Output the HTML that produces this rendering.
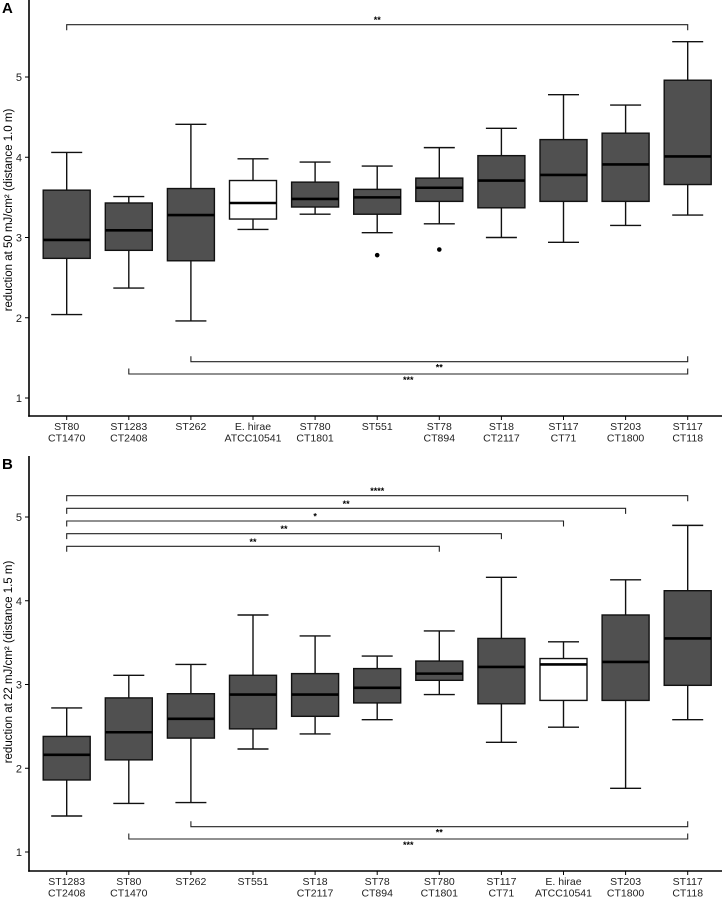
<!DOCTYPE html>
<html><head><meta charset="utf-8"><style>
body{margin:0;background:#fff;}
svg{display:block;font-family:"Liberation Sans",Arial,sans-serif;}
</style></head><body>
<svg id="fig" width="727" height="897" viewBox="0 0 727 897" xmlns="http://www.w3.org/2000/svg"></svg>
<script>
// Panel A data
const catsA = [["ST80","CT1470"],["ST1283","CT2408"],["ST262"],["E. hirae","ATCC10541"],["ST780","CT1801"],["ST551"],["ST78","CT894"],["ST18","CT2117"],["ST117","CT71"],["ST203","CT1800"],["ST117","CT118"]];
const lowA  = [2.04,2.37,1.96,3.10,3.29,3.06,3.17,3.00,2.94,3.15,3.28];
const q1A   = [2.74,2.84,2.71,3.23,3.38,3.29,3.45,3.37,3.45,3.45,3.66];
const medA  = [2.97,3.09,3.28,3.43,3.48,3.50,3.62,3.71,3.78,3.91,4.01];
const q3A   = [3.59,3.43,3.61,3.71,3.69,3.60,3.74,4.02,4.22,4.30,4.96];
const highA = [4.06,3.51,4.41,3.98,3.94,3.89,4.12,4.36,4.78,4.65,5.44];
const whiteA = [3];
const outA = [[5,2.78],[6,2.85]];
const ticksA = [1,2,3,4,5];
// brackets: [from, to, label]
const topBrA = [[0,10,"**"]];
const botBrA = [[2,10,"**"],[1,10,"***"]];

// Panel B data
const catsB = [["ST1283","CT2408"],["ST80","CT1470"],["ST262"],["ST551"],["ST18","CT2117"],["ST78","CT894"],["ST780","CT1801"],["ST117","CT71"],["E. hirae","ATCC10541"],["ST203","CT1800"],["ST117","CT118"]];
const lowB  = [1.43,1.58,1.59,2.23,2.41,2.58,2.88,2.31,2.49,1.76,2.58];
const q1B   = [1.86,2.10,2.36,2.47,2.62,2.78,3.05,2.77,2.81,2.81,2.99];
const medB  = [2.16,2.43,2.59,2.88,2.88,2.96,3.13,3.21,3.24,3.27,3.55];
const q3B   = [2.38,2.84,2.89,3.11,3.13,3.19,3.28,3.55,3.31,3.83,4.12];
const highB = [2.72,3.11,3.24,3.83,3.58,3.34,3.64,4.28,3.51,4.25,4.90];
const whiteB = [8];
const outB = [];
const ticksB = [1,2,3,4,5];
const topBrB = [[0,10,"****"],[0,9,"**"],[0,8,"*"],[0,7,"**"],[0,6,"**"]];
const botBrB = [[2,10,"**"],[1,10,"***"]];

const NS="http://www.w3.org/2000/svg";
const svg=document.getElementById('fig');
function el(tag,attrs,parent){const e=document.createElementNS(NS,tag);for(const k in attrs)e.setAttribute(k,attrs[k]);(parent||svg).appendChild(e);return e;}
const xPos=i=>66.7+i*62.1;

function panel(o){
  const g=el('g',{});
  
  
  const y=v=>o.y1-(v-1)*o.unit;
  // axes
  const ya=el('line',{x1:29,y1:o.top,x2:29,y2:o.axisY+0.75,stroke:'#000','stroke-width':1.6},g);
  
  
  const xa=el('line',{x1:28.2,y1:o.axisY,x2:722,y2:o.axisY,stroke:'#000','stroke-width':1.6},g);
  
  
  o.ticks.forEach(t=>{
    el('line',{x1:25,y1:y(t),x2:29,y2:y(t),stroke:'#000','stroke-width':1},g);
    const tx=el('text',{x:22,y:y(t)+4,'font-size':11,'text-anchor':'end',fill:'#222'},g);
    tx.textContent=t;
    
    
  });
  const yt=el('text',{x:0,y:0,'font-size':11.5,'text-anchor':'middle',fill:'#000',transform:`translate(12,${o.titleY}) rotate(-90)`},g);
  yt.textContent=o.title;
  
  
  const pl=el('text',{x:2,y:o.top+13,'font-size':15,'font-weight':'bold',fill:'#000'},g);
  pl.textContent=o.id.toUpperCase();
  
  
  o.cats.forEach((c,i)=>{
    const x=xPos(i);
    el('line',{x1:x,y1:o.axisY,x2:x,y2:o.axisY+4,stroke:'#000','stroke-width':1},g);
    c.forEach((s,j)=>{
      const t=el('text',{x:x,y:o.axisY+14+j*11.5,'font-size':10.5,'text-anchor':'middle',fill:'#222'},g);
      t.textContent=s;
      
      
    });
    const bg=el('g',{},g);
    
    
    const fill=o.white.includes(i)?'#fff':'#505050';
    el('line',{x1:x,y1:y(o.high[i]),x2:x,y2:y(o.q3[i]),stroke:'#111','stroke-width':1.4},bg);
    el('line',{x1:x,y1:y(o.q1[i]),x2:x,y2:y(o.low[i]),stroke:'#111','stroke-width':1.4},bg);
    el('line',{x1:x-15.5,y1:y(o.high[i]),x2:x+15.5,y2:y(o.high[i]),stroke:'#111','stroke-width':1.4},bg);
    el('line',{x1:x-15.5,y1:y(o.low[i]),x2:x+15.5,y2:y(o.low[i]),stroke:'#111','stroke-width':1.4},bg);
    el('rect',{x:x-23.5,y:y(o.q3[i]),width:47,height:y(o.q1[i])-y(o.q3[i]),fill:fill,stroke:'#111','stroke-width':1.4},bg);
    el('line',{x1:x-23.5,y1:y(o.med[i]),x2:x+23.5,y2:y(o.med[i]),stroke:'#000','stroke-width':2.6},bg);
  });
  o.out.forEach(p=>{
    const c=el('circle',{cx:xPos(p[0]),cy:y(p[1]),r:2.3,fill:'#000'},g);
    
    
  });
  o.topBr.forEach((b,k)=>{
    const ly=o.topBrY+k*o.brStep;
    const x1=xPos(b[0]),x2=xPos(b[1]);
    const p=el('path',{d:`M${x1},${ly+5.5}V${ly}H${x2}V${ly+5.5}`,fill:'none',stroke:'#222','stroke-width':1.1},g);
    
    
    const t=el('text',{x:(x1+x2)/2,y:ly-1.5,'font-size':9,'font-weight':'bold','text-anchor':'middle',fill:'#000'},g);
    t.textContent=b[2];
    
    
  });
  o.botBr.forEach((b,k)=>{
    const ly=o.botBrY+k*o.botStep;
    const x1=xPos(b[0]),x2=xPos(b[1]);
    const p=el('path',{d:`M${x1},${ly-5.5}V${ly}H${x2}V${ly-5.5}`,fill:'none',stroke:'#222','stroke-width':1.1},g);
    
    
    const t=el('text',{x:(x1+x2)/2,y:ly+9,'font-size':9,'font-weight':'bold','text-anchor':'middle',fill:'#000'},g);
    t.textContent=b[2];
    
    
  });
}
panel({id:'a',top:0,axisY:416,y1:398,unit:80.25,ticks:ticksA,cats:catsA,low:lowA,q1:q1A,med:medA,q3:q3A,high:highA,white:whiteA,out:outA,
  topBr:topBrA,topBrY:24.7,brStep:12.6,botBr:botBrA,botBrY:361.7,botStep:12.3,title:'reduction at 50 mJ/cm² (distance 1.0 m)',titleY:210});
panel({id:'b',top:456,axisY:871,y1:852,unit:83.75,ticks:ticksB,cats:catsB,low:lowB,q1:q1B,med:medB,q3:q3B,high:highB,white:whiteB,out:outB,
  topBr:topBrB,topBrY:495.7,brStep:12.65,botBr:botBrB,botBrY:826.7,botStep:12.3,title:'reduction at 22 mJ/cm² (distance 1.5 m)',titleY:662});
</script>
</body></html>
